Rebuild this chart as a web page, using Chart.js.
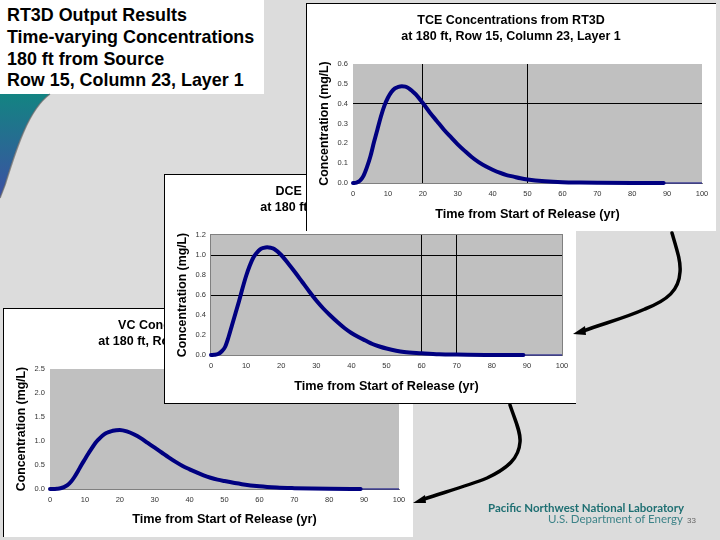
<!DOCTYPE html>
<html>
<head>
<meta charset="utf-8">
<title>RT3D Output Results</title>
<script src="https://cdn.jsdelivr.net/npm/chart.js@4"></script>
<style>
  html, body { margin: 0; padding: 0; }
  body { width: 720px; height: 540px; position: relative; overflow: hidden; background: #dcdcdc; font-family: "Liberation Sans", Arial, sans-serif; }
  .panel { position: absolute; background: #fff; box-sizing: border-box; }
  .panel canvas { position: absolute; left: 0; top: 0; }
  .edge { position: absolute; background: #000; }
  #heading { position: absolute; left: 0; top: 0; width: 264px; height: 94px; background: #fff; font-weight: bold; font-size: 17.9px; line-height: 21.8px; padding: 5px 0 0 7px; box-sizing: border-box; color: #000; white-space: nowrap; }
  #overlay { position: absolute; left: 0; top: 0; z-index: 10; }
</style>
</head>
<body>
<div id="heading">RT3D Output Results<br>Time-varying Concentrations<br>180 ft from Source<br>Row 15, Column 23, Layer 1</div>

<div class="panel" style="left:3px;top:308px;width:410px;height:229px;z-index:1">
  <canvas id="vc"></canvas>
  <div class="edge" style="left:0;top:0;width:100%;height:1px"></div>
  <div class="edge" style="left:0;top:0;width:1px;height:100%"></div>
</div>
<div class="panel" style="left:164px;top:174px;width:412px;height:230px;z-index:2">
  <canvas id="dce"></canvas>
  <div class="edge" style="left:0;top:0;width:100%;height:1px"></div>
  <div class="edge" style="left:0;top:0;width:1px;height:100%"></div>
  <div class="edge" style="left:0;bottom:0;width:100%;height:1px"></div>
</div>
<div class="panel" style="left:306px;top:3px;width:410px;height:228px;z-index:3">
  <canvas id="tce"></canvas>
  <div class="edge" style="left:0;top:0;width:100%;height:1px"></div>
  <div class="edge" style="left:0;top:0;width:1px;height:100%"></div>
</div>

<svg id="overlay" width="720" height="540">
  <defs>
    <linearGradient id="swoosh" x1="0" y1="0" x2="0" y2="1">
      <stop offset="0" stop-color="#138482"/>
      <stop offset="1" stop-color="#3d50a4"/>
    </linearGradient>
  </defs>
  <path d="M0,94 L50,94 C28,110 16,150 5,185 L0,198 Z" fill="url(#swoosh)"/>
  <path d="M50,94 C28,110 16,150 5,185 L0,198" fill="none" stroke="#666" stroke-opacity=".7" stroke-width="1.5"/>
  <g fill="none" stroke="#000" stroke-width="3.5" stroke-linecap="round">
    <path d="M672,233 C677,250 681,262 680,272 C679,290 668,300 645,309 C625,318 605,323 583,331"/>
    <path d="M510,405 C515,420 521,432 520,442 C519,458 508,468 487,478 C467,486 445,492 424,499"/>
  </g>
  <path d="M573,334 L585,326 L586,335 Z" fill="#000"/>
  <path d="M413,503 L425,495 L426,503 Z" fill="#000"/>
  <text x="488" y="512" font-family="Lato" font-weight="bold" font-size="12" fill="#1e6f72" textLength="196" lengthAdjust="spacingAndGlyphs">Pacific Northwest National Laboratory</text>
  <text x="548" y="523" font-family="Lato" font-size="12" fill="#3d8388" textLength="135" lengthAdjust="spacingAndGlyphs">U.S. Department of Energy</text>
  <text x="687" y="523" font-family="Liberation Sans" font-size="8" fill="#666">33</text>
</svg>

<script>
// years the curves were read at
const times = [0,1,2,3,4,5,6,7,8,9,10,11,12,13,14,15,16,17,18,20,22,24,26,28,30,32,34,36,38,40,42,44,46,48,50,55,60,65,70,80,89];
const tceValues = [0,.002,.012,.036,.08,.135,.205,.27,.335,.39,.43,.459,.477,.485,.488,.486,.477,.463,.447,.403,.356,.313,.27,.232,.195,.162,.131,.105,.084,.067,.052,.04,.032,.024,.018,.009,.004,.002,.001,0,0];
const dceValues = [0,.002,.01,.035,.08,.18,.3,.42,.54,.67,.79,.89,.97,1.02,1.057,1.072,1.077,1.072,1.06,1,.915,.825,.73,.635,.545,.465,.395,.33,.27,.22,.18,.145,.11,.085,.065,.03,.018,.008,.004,0,0];
const vcValues = [0,0,.005,.015,.04,.08,.15,.25,.37,.5,.62,.74,.85,.96,1.04,1.11,1.16,1.19,1.215,1.23,1.2,1.14,1.06,.96,.86,.76,.66,.565,.48,.41,.345,.285,.235,.195,.165,.1,.055,.03,.018,.004,0];
// thin tail after the markers stop
const tailTimes = [89,100];
const tailValues = [0,0];

const tceGridX = [20,50], tceGridY = [0.4];
const dceGridX = [60,70], dceGridY = [0.6,1.0];
const vcGridX = [], vcGridY = [];

const xTitle = "Time from Start of Release (yr)";
const yTitle = "Concentration (mg/L)";
const navy = "#000080";
const font = "'Liberation Sans', Arial, sans-serif";

function onList(list, v) {
  return list.some(g => Math.abs(g - v) < 1e-6);
}

// grey plot background, plus the thin frame on the DCE chart
const plotBack = {
  id: "plotBack",
  beforeDraw(chart, args, opts) {
    const a = chart.chartArea, c = chart.ctx;
    c.save();
    c.fillStyle = "#c0c0c0";
    c.fillRect(a.left, a.top, a.width, a.height);
    if (opts.frame) {
      c.strokeStyle = "#808080";
      c.lineWidth = 1;
      c.strokeRect(a.left - .5, a.top - .5, a.width + 1, a.height + 1);
    }
    c.restore();
  }
};

function makeChart(id, name, values, yMax, yStep, gridX, gridY, box) {
  const canvas = document.getElementById(id);
  canvas.width = box.w;
  canvas.height = box.h;
  return new Chart(canvas, {
    type: "line",
    data: {
      datasets: [
        {
          data: tailTimes.map((t, i) => ({ x: t, y: tailValues[i] })),
          borderColor: navy, borderWidth: 1, pointRadius: 0, clip: 6
        },
        {
          data: times.map((t, i) => ({ x: t, y: values[i] })),
          borderColor: navy, borderWidth: 4, pointRadius: 0, clip: 6,
          cubicInterpolationMode: "monotone", borderCapStyle: "round", borderJoinStyle: "round"
        }
      ]
    },
    plugins: [plotBack],
    options: {
      responsive: false,
      animation: false,
      devicePixelRatio: 1,
      plugins: {
        legend: { display: false },
        tooltip: { enabled: false },
        plotBack: { frame: box.frame },
        title: {
          display: true,
          text: [name + " Concentrations from RT3D", "at 180 ft, Row 15, Column 23, Layer 1"],
          color: "#000",
          font: { family: font, size: 12.5, weight: "bold", lineHeight: 1.3 },
          padding: { top: 9, bottom: box.top - 41.5 }
        }
      },
      scales: {
        x: {
          type: "linear", min: 0, max: 100,
          afterFit(s) { s.height = box.bottom; },
          border: { color: "#808080" },
          grid: { drawTicks: false, color: c => onList(gridX, c.tick.value) ? "#000" : "transparent" },
          ticks: {
            stepSize: 10, autoSkip: false, maxRotation: 0, padding: 6, color: "#333",
            font: { family: font, size: 7.5 }
          },
          title: {
            display: true, text: xTitle, color: "#000",
            font: { family: font, size: 12.7, weight: "bold" },
            padding: { top: 0, bottom: box.xTitleGap }
          }
        },
        y: {
          min: 0, max: yMax,
          afterFit(s) { s.width = box.left; },
          border: { display: false },
          grid: { drawTicks: false, color: c => onList(gridY, c.tick.value) ? "#000" : "transparent" },
          ticks: {
            stepSize: yStep, padding: 5, color: "#333",
            font: { family: font, size: 7.5 },
            callback: v => v.toFixed(1)
          },
          title: {
            display: true, text: yTitle, color: "#000",
            font: { family: font, size: 12.3, weight: "bold" },
            padding: { top: 11, bottom: 0 }
          }
        },
        // empty axis that only keeps the white margin right of the plot,
        // layout padding would pull the title off the panel centre
        margin: {
          position: "right",
          afterFit(s) { s.width = box.right; },
          border: { display: false },
          grid: { display: false },
          ticks: { display: false }
        }
      }
    }
  });
}

makeChart("tce", "TCE", tceValues, 0.6, 0.1, tceGridX, tceGridY, { w: 410, h: 228, left: 47, right: 14, top: 61, bottom: 48, xTitleGap: 9 });
makeChart("dce", "DCE", dceValues, 1.2, 0.2, dceGridX, dceGridY, { w: 412, h: 230, left: 47, right: 14, top: 61, bottom: 49, frame: true, xTitleGap: 10 });
makeChart("vc", "VC", vcValues, 2.5, 0.5, vcGridX, vcGridY, { w: 410, h: 229, left: 47, right: 14, top: 61, bottom: 48, xTitleGap: 10 });
</script>
</body>
</html>
